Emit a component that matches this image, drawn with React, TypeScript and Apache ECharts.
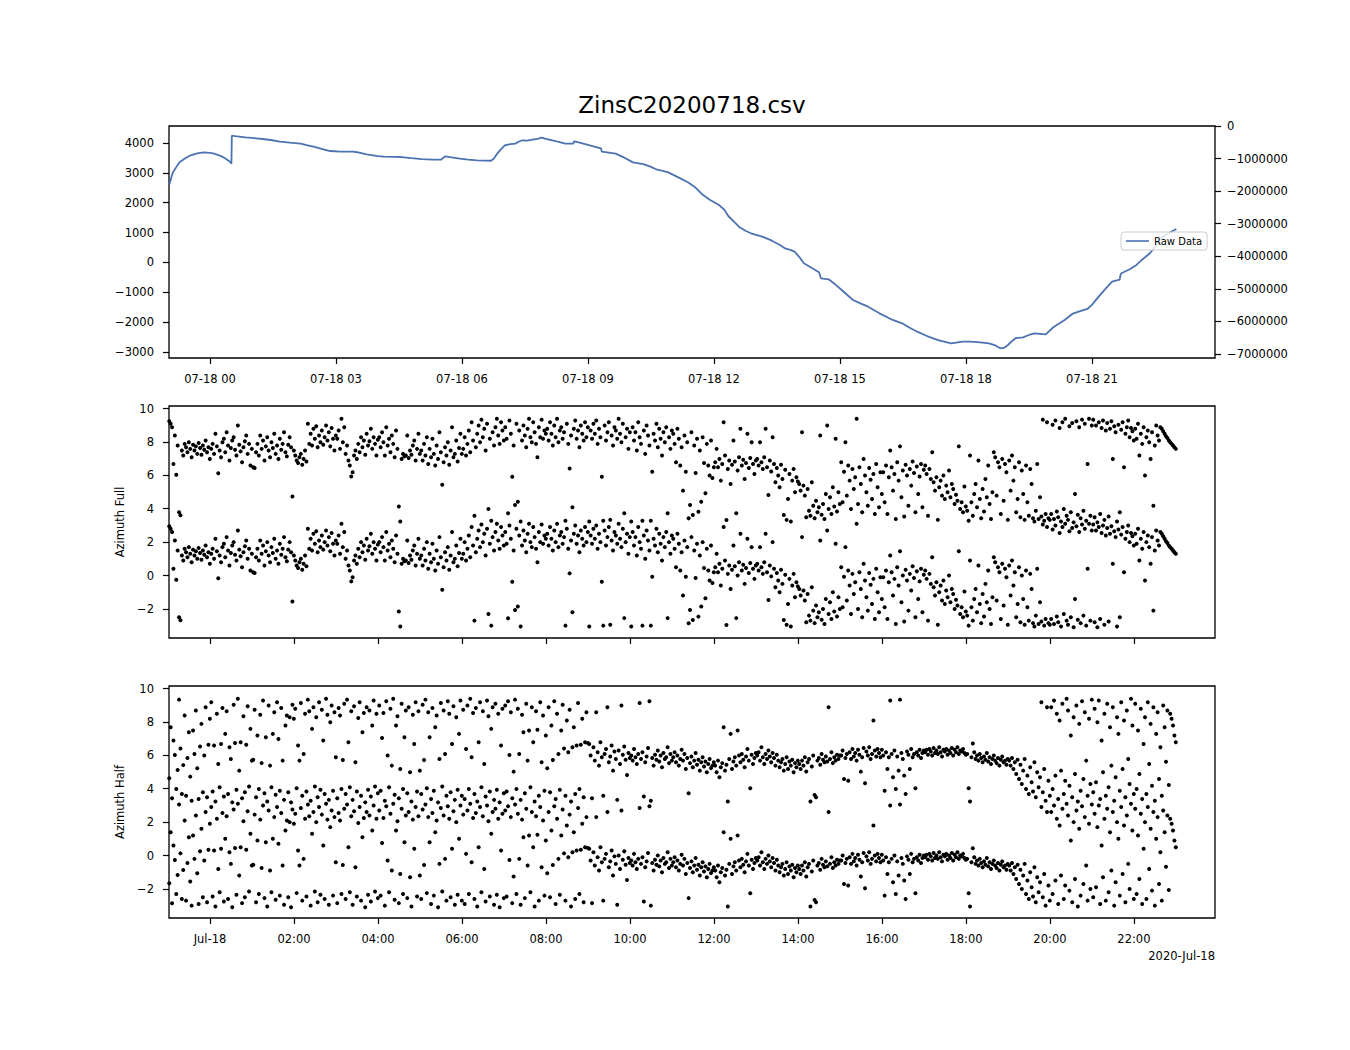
import React, { useEffect, useRef } from "react";
import * as echarts from "echarts";

const TITLE = "ZinsC20200718.csv";
const DATE_OFFSET_LABEL = "2020-Jul-18";
const FONT = "DejaVu Sans";

// x axis in hours relative to 2020-07-18 00:00
const X_MIN = -0.976;
const X_MAX = 23.93;

// Raw data line (top panel)
const rawHours = [
  -0.97, -0.89, -0.8, -0.73, -0.6, -0.48, -0.3, -0.15, 0.0, 0.1, 0.25, 0.35, 0.45, 0.49, 0.51, 0.52, 0.6, 0.84, 1.0, 1.25,
  1.45, 1.66, 1.9, 2.16, 2.3, 2.49, 2.7, 2.86, 3.1, 3.4, 3.5, 3.73, 4.0, 4.14, 4.4, 4.55, 4.8, 5.04, 5.3, 5.5,
  5.55, 5.6, 5.75, 5.95, 6.15, 6.36, 6.55, 6.69, 6.76, 6.82, 6.92, 7.02, 7.15, 7.27, 7.35, 7.43, 7.55, 7.68, 7.8, 7.89,
  8.0, 8.18, 8.3, 8.46, 8.65, 8.67, 8.8, 9.0, 9.15, 9.31, 9.33, 9.5, 9.66, 9.85, 10.07, 10.32, 10.5, 10.65, 10.9, 11.14,
  11.39, 11.55, 11.71, 11.9, 12.12, 12.25, 12.34, 12.5, 12.61, 12.75, 12.88, 13.15, 13.38, 13.55, 13.69, 13.8, 13.92, 14.05, 14.14, 14.3,
  14.41, 14.5, 14.55, 14.73, 14.9, 15.04, 15.31, 15.5, 15.67, 15.94, 16.21, 16.48, 16.65, 16.84, 17.11, 17.25, 17.38, 17.65, 17.92, 18.1,
  18.28, 18.55, 18.7, 18.82, 18.92, 19.0, 19.1, 19.18, 19.36, 19.5, 19.63, 19.9, 20.08, 20.35, 20.53, 20.7, 20.89, 21.0, 21.16, 21.3,
  21.48, 21.66, 21.68, 21.7, 21.9, 22.06, 22.2, 22.38, 22.5, 22.65, 22.8, 23.01,
];
const rawValues = [
  2600, 2992, 3200, 3350, 3480, 3574, 3650, 3686, 3670, 3642, 3570, 3496, 3400, 3350, 3306, 4246, 4230, 4190, 4170, 4134,
  4100, 4045, 4010, 3978, 3930, 3866, 3790, 3731, 3712, 3709, 3690, 3619, 3560, 3541, 3535, 3530, 3490, 3462, 3445, 3440,
  3500, 3552, 3520, 3474, 3440, 3418, 3410, 3406, 3480, 3608, 3780, 3922, 3960, 3978, 4040, 4090, 4080, 4112, 4140, 4179,
  4140, 4078, 4040, 3978, 3978, 4056, 4010, 3933, 3880, 3821, 3709, 3680, 3642, 3520, 3350, 3294, 3200, 3104, 3026, 2858,
  2679, 2520, 2292, 2100, 1924, 1760, 1555, 1330, 1177, 1060, 976, 862, 728, 600, 474, 430, 360, 150, -29, -160,
  -253, -330, -531, -565, -750, -923, -1258, -1380, -1482, -1705, -1896, -2040, -2180, -2320, -2488, -2560, -2622, -2708, -2654, -2650,
  -2666, -2708, -2780, -2876, -2850, -2765, -2630, -2540, -2510, -2430, -2373, -2410, -2172, -1928, -1726, -1640, -1559, -1420, -1146, -920,
  -644, -575, -420, -364, -230, -85, 100, 306, 520, 808, 960, 1120,
];

// Axis ticks
const leftTicks = [-3000, -2000, -1000, 0, 1000, 2000, 3000, 4000];
const rightTicks = [0, -1000000, -2000000, -3000000, -4000000, -5000000, -6000000, -7000000];
const topTickHours = [0, 3, 6, 9, 12, 15, 18, 21];
const bottomTickHours = [0, 2, 4, 6, 8, 10, 12, 14, 16, 18, 20, 22];
const azTicks = [-2, 0, 2, 4, 6, 8, 10];

// Azimuth samples: one value per 2 minutes starting at -0.97 h; each is drawn at v and v + 2*pi
const SAMPLE_START = -0.97;
const SAMPLE_STEP = 1 / 30;

const azFullBase = [
  // -1h
  2.95, 2.8, 2.6, 0.4, 2.1, -0.25, 1.5, -2.5, -2.68, 1.2, 0.9, 1.6, 1.4, 1.1, 1.7, 1.3, 0.8, 1.55, 1.2, 1.45, 1.0, 1.65, 1.35, 0.95, 1.5, 1.25, 1.8, 1.1, 1.4, 0.7,
  // 0h
  1.3, 1.6, 1.0, 2.2, 1.45, -0.16, 1.2, 0.8, 1.7, 1.9, 1.1, 2.3, 1.5, 0.6, 1.35, 1.8, 2.0, 1.25, 0.9, 2.7, 1.55, 1.15, 0.5, 1.4, 1.75, 2.1, 1.0, 1.6, 0.3, 1.3,
  // 1h
  0.2, 0.15, 1.1, 1.6, 0.9, 2.1, 1.3, 1.8, 0.6, 1.45, 2.0, 1.2, 0.8, 1.7, 1.35, 2.2, 1.0, 1.5, 0.7, 1.9, 1.25, 1.6, 2.3, 1.1, 0.85, 1.55, 2.0, 1.4, -1.55, 1.2,
  // 2h
  0.9, 0.6, 0.45, 0.8, 1.0, 0.35, 0.7, 1.2, 0.55, 2.8, 1.6, 2.2, 1.5, 2.5, 1.9, 2.65, 1.4, 2.1, 1.7, 2.4, 1.55, 2.0, 2.7, 1.8, 2.3, 1.45, 2.55, 1.9, 1.2, 2.1,
  // 3h
  1.9, 2.4, 1.3, 3.1, 1.7, 2.6, 1.0, 1.5, 0.6, 0.3, -0.35, -0.1, 0.9, 1.2, 0.7, 1.6, 1.1, 2.0, 1.4, 1.8, 0.95, 2.2, 1.5, 1.75, 2.5, 1.3, 2.0, 1.6, 0.9, 1.85,
  // 4h
  2.0, 1.4, 2.3, 1.7, 0.9, 2.6, 1.5, 1.9, 1.1, 2.1, 1.6, 0.8, 2.4, 1.3, -2.15, -3.05, 0.7, 1.0, 0.85, 0.9, 2.1, 0.75, 1.2, 0.95, 1.5, 1.8, 0.6, 1.3, 2.2, 1.0,
  // 5h
  1.2, 0.6, 1.6, 0.9, 2.0, 0.4, 1.3, 0.8, 1.9, 1.0, 0.3, 1.5, 0.7, 2.3, 1.1, -0.85, 0.5, 1.4, 0.9, 1.7, 0.35, 1.2, 2.6, 0.8, 1.0, 1.8, 0.55, 1.35, 2.2, 1.0,
  // 6h
  1.3, 2.0, 0.9, 1.6, 2.4, 1.1, 2.9, 1.8, -2.7, 1.4, 2.2, 2.7, 1.7, 3.05, 2.0, 2.5, 1.2, 2.8, -2.3, 1.9, -3.0, 2.3, 1.5, 2.6, 3.1, 2.1, 1.6, 2.9, 2.4, 1.8,
  // 7h
  2.6, 1.9, -2.56, 3.0, 2.2, -0.37, 1.5, -2.06, 2.8, -1.86, 2.4, -3.05, 1.8, 2.7, 2.1, 1.4, 2.5, 3.1, 2.0, 1.7, 2.9, 2.3, 1.6, 0.8, 2.6, 2.0, 3.05, 1.9, 2.4, 2.2,
  // 8h
  2.5, 1.8, 2.9, 2.2, 1.5, 2.7, 2.0, 3.1, 1.7, 2.4, 2.6, 1.9, 2.3, -3.0, 2.8, 1.6, 0.13, 2.1, -2.2, 2.5, 3.0, 1.9, 2.4, 1.4, 2.7, 2.2, 1.8, 2.9, 2.0, 2.6,
  // 9h
  -3.05, 2.4, 1.9, 2.8, 2.2, 3.0, 1.6, 2.5, 2.0, -0.37, -3.0, 2.7, 1.8, 2.3, 2.9, -2.95, 2.1, 1.5, 2.6, 2.4, 1.9, 3.1, 2.2, 1.7, 2.8, -2.55, 2.0, 2.5, 1.3, 2.3,
  // 10h
  -3.05, 2.6, 1.8, 2.3, 1.2, 2.9, 2.0, 1.6, -3.0, 2.4, 1.0, 2.7, 2.1, 1.5, -3.0, -0.07, 2.2, 1.8, 2.8, 1.4, 2.5, 1.9, 0.9, 2.3, 1.7, 2.6, -2.55, 2.0, 1.3, 2.4,
  // 11h
  2.2, 1.6, 0.5, 2.5, 1.9, 0.3, 1.4, -1.2, 2.1, -0.07, 1.7, -2.86, -2.06, 2.3, -2.66, 1.5, -0.15, 1.9, -2.46, 1.2, -1.86, 2.0, 0.45, -1.36, 1.6, 0.3, -0.3, 1.8, -0.45, 0.2,
  // 12h
  0.5, 1.3, 0.2, 0.7, -0.6, 0.4, 2.9, 0.9, -2.96, 0.1, 0.6, -0.8, 0.35, 1.8, 0.55, -2.55, 0.0, 0.8, 2.5, 0.3, 0.65, -0.5, 0.45, 2.2, 0.15, 0.75, 1.7, 0.4, -0.2, 0.6,
  // 13h
  0.7, 0.3, 1.7, 0.5, 0.1, 0.8, 2.5, 0.2, -1.46, 0.6, -0.05, 2.0, 0.4, -0.7, 0.15, -0.3, -1.0, 0.35, -0.5, -2.66, 0.05, -2.95, -1.7, -0.2, -3.05, -0.6, 0.1, -1.3, -0.4, -0.65,
  // 14h
  -0.8, -1.2, 2.3, -0.9, -1.5, -2.8, -1.1, -2.4, -2.7, -0.7, -2.1, -2.85, -1.8, -2.5, -2.2, 2.1, -2.65, -2.0, -2.9, -1.4, 2.7, -2.3, -1.6, -2.6, -1.0, -2.15, 1.9, -2.45, -1.3, -2.0,
  // 15h
  0.5, -1.9, -0.07, 1.7, -1.5, 0.3, -0.6, -2.3, 0.1, -1.1, -0.4, 3.1, -2.0, 0.2, -0.8, -2.5, 0.7, -0.3, -1.3, -2.1, 0.15, -0.55, -1.7, -0.2, -2.6, 0.4, -1.0, -2.2, -0.1, -1.4,
  // 16h
  -0.1, -1.9, 0.3, -2.6, -0.4, 1.2, 0.2, -1.2, -0.2, -2.9, 0.5, -0.6, 1.45, -1.6, 0.0, -2.75, 0.35, -0.3, -2.1, 0.1, -0.9, 0.55, -0.15, -2.5, 0.25, -1.4, -0.35, 0.4, -2.2, 0.05,
  // 17h
  0.3, -0.2, -2.7, 0.1, -0.5, 1.1, -0.7, -1.2, -0.4, -2.95, -1.0, -0.6, -1.5, -0.3, -1.7, -0.9, -1.3, 0.0, -1.6, -0.8, -1.1, -2.0, -1.45, -1.8, 1.45, -2.3, -1.9, -2.5, -0.95, -2.15,
  // 18h
  -2.4, -3.0, 0.9, -1.9, -2.7, -1.4, -0.8, -2.2, 0.6, -1.7, -2.85, -1.1, -2.45, -0.5, -1.6, 0.3, -2.0, -2.9, -1.3, 1.1, 0.8, -1.5, 0.5, 0.2, -2.6, 0.7, -1.8, 0.4, -0.1, -2.95,
  // 19h
  0.6, -1.2, 0.9, -0.6, 0.2, -2.5, -1.7, 0.5, -2.8, 0.0, -1.4, -2.95, 0.3, -1.9, -2.7, 0.1, -0.8, -2.85, -3.05, -2.4, 0.4, -2.9, -1.6, -2.75, 3.05, -3.0, -2.6, 2.9, -2.85, -2.95,
  // 20h
  -2.6, 2.75, -2.9, 3.0, -2.45, -2.8, 2.55, -3.05, 2.9, -2.3, 3.1, -2.7, -2.95, 2.65, -2.5, 2.85, -3.1, -1.4, 2.95, -2.65, 2.6, -2.85, 3.05, -2.4, 2.8, -3.0, 0.4, 3.1, -2.7, 2.7,
  // 21h
  3.05, -2.8, 2.7, -3.1, 2.9, -2.6, 2.55, 3.0, -2.95, 2.4, 2.85, -2.75, 2.5, 2.95, 0.7, 2.65, 2.3, -3.05, 2.75, -2.5, 2.45, 2.9, 0.2, 2.2, 2.6, 3.0, 2.0, 2.55, 2.35, 1.8,
  // 22h
  2.5, 1.9, 2.8, 0.9, 2.2, 1.6, 2.6, -0.3, 2.0, 2.4, 1.7, 0.7, 2.3, -2.1, 1.5, 2.7, 2.1, 1.8, 2.6, 2.5, 2.35, 2.2, 2.05, 1.95, 1.8, 1.7, 1.6, 1.5, 1.4, 1.3,
];

const azHalfBase = [
  // -1h
  -1.66, 1.4, -2.86, 0.6, -0.27, -2.3, -1.16, 3.05, 0.13, -2.6, -0.87, 2.1, -2.7, -0.45, 1.1, -1.56, -3.0, 1.2, -0.2, 2.4, -1.06, -2.9, 0.25, 1.6, -2.5, -0.3, 2.6, -2.8, 0.35, 1.9,
  // 0h
  2.9, -2.45, 0.3, -3.05, 2.2, -0.8, -2.2, 0.4, 2.55, -2.75, 1.0, 2.35, -2.6, 0.2, -0.5, -3.1, 2.75, 0.45, -2.35, 3.1, -1.2, 0.5, -2.85, 2.05, -2.5, 0.35, 2.65, -2.15, 1.3, -0.6,
  // 1h
  -0.55, 2.45, -2.8, 0.9, -2.3, 2.15, -0.75, 3.0, -2.55, 0.8, -3.05, 2.7, -0.9, -2.2, 1.0, 2.3, -2.65, 2.9, 0.7, -2.4, 2.55, -0.6, -2.95, 1.5, 2.1, -2.5, 2.0, -3.1, 2.75, 1.9,
  // 2h
  2.5, -2.25, 0.3, -0.6, 2.85, -2.7, -0.2, 2.2, -2.45, 3.05, 2.35, -3.0, 1.3, 2.6, -2.15, 2.0, -2.8, 2.9, -2.35, 2.45, 0.6, -2.6, 3.1, 2.15, -2.95, 1.7, 2.7, -2.4, 2.3, -0.4,
  // 3h
  -2.85, 2.55, 2.1, -2.3, -0.57, 2.8, -2.6, 3.05, 0.5, -2.2, 2.35, -2.95, 2.65, -0.7, -2.45, 1.95, 2.9, -2.7, 1.1, 2.25, -3.1, 2.6, -2.35, 2.4, -2.75, 1.5, 3.0, -2.15, 2.2, -2.55,
  // 4h
  2.7, -2.4, 0.75, 2.25, -3.0, 2.95, -0.3, -2.2, 2.5, -0.9, 3.1, -2.65, 1.5, 2.05, -2.85, -1.1, 2.8, -2.3, 0.8, 2.4, -2.55, 2.6, -1.3, -3.05, 2.15, 0.4, 2.9, -2.45, 2.35, -1.2,
  // 5h
  -2.6, 2.75, -0.57, 3.05, -2.25, 2.3, 0.8, -2.9, 2.55, -2.4, 1.4, 2.1, -3.1, -0.5, 2.85, -2.15, 2.4, -0.2, -2.7, 2.95, 2.2, -2.5, 0.4, 2.65, -2.95, 2.0, -2.35, 1.0, 3.0, -2.7,
  // 6h
  2.45, -2.9, 0.1, 2.7, -2.3, 3.1, -0.4, 2.25, -2.6, 2.55, -3.05, 0.5, 2.9, -2.2, 2.35, -0.8, -2.75, 3.0, 2.05, -2.45, 1.3, 2.6, -2.95, 2.8, -2.35, 2.2, -3.1, 0.3, 2.5, -2.55,
  // 7h
  2.7, -2.45, 2.95, -0.27, 2.3, -2.85, -1.26, 3.05, -2.3, 2.5, -0.2, -2.95, 2.15, 1.1, -2.55, 2.8, -0.6, 1.2, -2.2, 2.6, 0.5, -3.05, 2.35, 1.25, -2.7, 2.9, -0.7, 2.1, -2.4, 0.9,
  // 8h
  -1.06, 2.6, -2.5, 1.5, -0.57, 2.95, -2.9, 2.2, -0.2, -2.35, 1.2, 2.75, 0.13, -2.7, 1.8, -0.1, 2.45, -3.05, 0.2, 1.4, -2.6, 0.3, 2.85, -2.3, 0.35, 1.9, -2.8, 0.5, 2.3, 0.45,
  // 9h
  0.4, -0.3, -2.85, 0.2, -0.6, 2.3, -0.1, -0.9, 0.5, -0.4, -2.7, -0.2, 0.1, 2.6, -0.7, -0.35, 0.3, -1.2, -0.05, -0.5, -2.95, 0.0, -0.8, 2.7, -0.25, 0.25, -0.55, -1.46, -0.15, -0.45,
  // 10h
  -0.3, -0.6, 0.1, -0.4, -0.8, -0.2, 2.85, -0.5, -0.1, -2.75, -0.7, -0.35, 0.15, 2.95, -3.0, -0.45, -0.9, -0.25, -0.55, 0.0, -0.65, -0.3, -1.0, -0.15, -0.5, -0.4, 0.2, -0.75, -0.2, -0.6,
  // 11h
  -0.4, -0.1, -0.7, -0.3, -0.9, -0.5, 0.05, -0.6, -0.2, -1.1, -0.45, -2.55, -0.75, -0.35, -1.0, -0.6, -0.15, -0.85, -0.55, -1.2, -0.7, -0.4, -0.95, -0.65, -1.3, -0.8, -0.5, -1.05, -0.9, -0.7,
  // 12h
  -0.9, -1.3, -0.6, -1.6, -1.0, -0.75, 1.4, -1.2, -0.85, -3.05, -0.5, 1.0, -1.1, -0.65, -0.4, -0.9, 1.2, -0.3, -0.7, -0.2, -0.55, -1.0, -0.35, 0.1, -0.6, -2.26, -0.25, -0.8, -0.45, -0.15,
  // 13h
  -0.3, -0.1, -0.6, 0.2, -0.4, -0.8, -0.2, -0.5, 0.0, -0.35, -0.7, -0.15, -0.45, -0.9, -0.25, -0.6, -1.0, -0.7, -0.5, -1.2, -0.8, -0.4, -1.1, -0.65, -0.9, -0.55, -1.3, -0.75, -1.0, -0.6,
  // 14h
  -0.8, -1.1, -0.6, -0.9, -0.4, -1.25, -0.7, -0.5, -3.05, -0.95, -0.3, -2.66, -2.8, -0.6, -0.45, -0.85, -0.2, -0.55, -0.7, -0.35, -0.65, 2.6, -0.5, -0.1, -0.75, -0.4, -0.6, -0.25, -0.5, -0.3,
  // 15h
  -0.3, 0.0, -1.7, -0.45, -0.2, -1.8, -0.1, -0.5, 0.1, -0.35, -0.15, -0.6, 0.05, -0.25, -1.26, -0.4, 0.15, -1.96, -0.05, -0.3, 0.2, -0.5, -0.2, 1.8, 0.0, -0.35, 0.1, -0.15, -0.4, 0.05,
  // 16h
  -0.3, -2.4, -0.1, -1.1, -0.4, 3.0, -0.2, -1.6, 0.0, -2.3, -0.35, -1.2, 3.05, -0.15, -0.5, -1.5, -2.6, -0.05, -0.25, -1.1, 0.1, -0.4, -0.2, -2.26, -0.1, -0.3, 0.05, -0.45, -0.15, 0.0,
  // 17h
  -0.1, 0.05, -0.25, 0.1, -0.05, -0.3, 0.15, -0.15, 0.0, -0.2, 0.2, -0.1, -0.35, 0.05, -0.05, 0.1, -0.25, 0.0, -0.15, 0.15, -0.3, 0.05, -0.1, 0.2, -0.2, 0.0, -0.05, 0.1, -0.15, -0.25,
  // 18h
  -0.2, -2.26, -3.05, -0.4, 0.43, -0.1, -0.5, -0.3, -0.6, -0.2, -0.45, -0.7, -0.35, -0.55, -0.15, -0.65, -0.4, -0.8, -0.5, -0.3, -0.6, -0.75, -0.45, -0.9, -0.55, -0.35, -0.7, -0.6, -0.85, -0.5,
  // 19h
  -0.6, -0.9, -0.45, -1.1, -0.7, -1.4, -0.55, -1.7, -0.85, -2.0, -1.2, -0.5, -2.3, -1.5, -2.6, -1.0, -1.9, -2.45, -0.7, -2.8, -1.3, -2.2, -1.6, 2.9, -2.5, -1.1, -3.0, 2.6, -1.8, -2.7,
  // 20h
  2.6, -2.3, 3.0, -1.5, 2.2, -2.9, 1.8, -1.2, 2.8, -2.6, -1.8, 3.1, 2.4, -2.1, 0.9, -2.8, 2.0, -1.4, 2.7, -3.05, 1.6, -2.4, 2.95, -1.7, 2.3, -0.6, -2.7, 1.9, -2.0, 3.05,
  // 21h
  -2.5, 2.5, -1.9, 1.7, 3.0, -2.9, 0.6, -1.3, 2.2, -2.7, 2.8, -2.2, 1.4, -0.9, 2.6, -3.0, -1.6, 2.0, 1.0, -2.4, 2.9, -1.1, 1.8, -2.8, 2.4, -0.5, -2.0, 3.1, 1.5, -2.6,
  // 22h
  2.8, -2.3, 1.2, -1.4, 2.5, -2.9, 0.4, 2.0, -2.6, 2.9, -0.8, 1.6, -2.1, 2.6, -3.0, 1.0, 2.3, -1.7, 0.2, -2.7, 2.7, 1.4, -0.67, 2.4, -2.06, 2.2, 1.9, 1.5, 0.9, 0.5,
];

const TWO_PI = 2 * Math.PI;

const minus = (s: string) => s.replace("-", "\u2212");
const pad2 = (v: number) => (v < 10 ? "0" + v : String(v));

function wrapPairs(base: number[]) {
  const out: number[][] = [];
  base.forEach((v, i) => {
    const t = SAMPLE_START + i * SAMPLE_STEP;
    out.push([t, v]);
    out.push([t, v + TWO_PI]);
  });
  return out;
}

const tickStyle = { show: true, length: 6, inside: false, lineStyle: { color: "#000", width: 1.2 } };
const labelBase = { color: "#000", fontSize: 11.5, fontFamily: FONT };
const noAxisLine = { show: false, onZero: false };

export default function App() {
  const ref = useRef<HTMLDivElement>(null);

  useEffect(() => {
    document.body.style.margin = "0";
    if (!ref.current) return;
    const chart = echarts.init(ref.current, null, { renderer: "svg" });

    const grids = [
      { left: 169, top: 126, width: 1046, height: 232 },
      { left: 169, top: 406, width: 1046, height: 232 },
      { left: 169, top: 686, width: 1046, height: 232 },
    ].map((g) => ({ ...g, show: true, borderColor: "#000", borderWidth: 1.3, backgroundColor: "transparent", containLabel: false }));

    const xCommon = {
      type: "value" as const,
      min: X_MIN,
      max: X_MAX,
      position: "bottom" as const,
      axisLine: noAxisLine,
      splitLine: { show: false },
    };

    const option: any = {
      animation: false,
      backgroundColor: "#fff",
      textStyle: { fontFamily: FONT },
      grid: grids,
      legend: {
        show: true,
        data: [{ name: "Raw Data", icon: "rect" }],
        left: 1121,
        top: 232,
        padding: [4, 5, 4, 5],
        itemWidth: 23,
        itemHeight: 1.6,
        itemGap: 0,
        textStyle: { color: "#000", fontSize: 10, fontFamily: FONT },
        borderColor: "#cccccc",
        borderWidth: 1,
        borderRadius: 3,
        backgroundColor: "rgba(255,255,255,0.8)",
      },
      xAxis: [
        {
          ...xCommon,
          gridIndex: 0,
          axisTick: { ...tickStyle, customValues: topTickHours },
          axisLabel: { ...labelBase, margin: 15, customValues: topTickHours, formatter: (v: number) => "07-18 " + pad2(v) },
        },
        {
          ...xCommon,
          gridIndex: 1,
          axisTick: { ...tickStyle, customValues: bottomTickHours },
          axisLabel: { show: false },
        },
        {
          ...xCommon,
          gridIndex: 2,
          axisTick: { ...tickStyle, customValues: bottomTickHours },
          axisLabel: {
            ...labelBase,
            margin: 15,
            customValues: bottomTickHours,
            formatter: (v: number) => (v === 0 ? "Jul-18" : pad2(v) + ":00"),
          },
        },
      ],
      yAxis: [
        {
          type: "value",
          gridIndex: 0,
          position: "left",
          min: -3201,
          max: 4569,
          axisLine: noAxisLine,
          splitLine: { show: false },
          axisTick: { ...tickStyle, customValues: leftTicks },
          axisLabel: { ...labelBase, margin: 15, customValues: leftTicks, formatter: (v: number) => minus(String(v)) },
        },
        {
          type: "value",
          gridIndex: 0,
          position: "right",
          min: -7122807,
          max: 0,
          axisLine: noAxisLine,
          splitLine: { show: false },
          axisTick: { ...tickStyle, customValues: rightTicks },
          axisLabel: { ...labelBase, margin: 12, customValues: rightTicks, formatter: (v: number) => minus(String(v)) },
        },
        {
          type: "value",
          gridIndex: 1,
          position: "left",
          min: -3.74,
          max: 10.15,
          name: "Azimuth Full",
          nameLocation: "middle",
          nameRotate: 90,
          nameGap: 41,
          nameTextStyle: { ...labelBase },
          axisLine: noAxisLine,
          splitLine: { show: false },
          axisTick: { ...tickStyle, customValues: azTicks },
          axisLabel: { ...labelBase, margin: 15, customValues: azTicks, formatter: (v: number) => minus(String(v)) },
        },
        {
          type: "value",
          gridIndex: 2,
          position: "left",
          min: -3.74,
          max: 10.15,
          name: "Azimuth Half",
          nameLocation: "middle",
          nameRotate: 90,
          nameGap: 41,
          nameTextStyle: { ...labelBase },
          axisLine: noAxisLine,
          splitLine: { show: false },
          axisTick: { ...tickStyle, customValues: azTicks },
          axisLabel: { ...labelBase, margin: 15, customValues: azTicks, formatter: (v: number) => minus(String(v)) },
        },
      ],
      series: [
        {
          name: "Raw Data",
          type: "line",
          xAxisIndex: 0,
          yAxisIndex: 0,
          data: rawHours.map((h, i) => [h, rawValues[i]]),
          showSymbol: false,
          symbol: "none",
          lineStyle: { color: "#4c72b0", width: 1.8 },
          itemStyle: { color: "#4c72b0" },
          silent: true,
        },
        {
          name: "Azimuth Full",
          type: "scatter",
          xAxisIndex: 1,
          yAxisIndex: 2,
          data: wrapPairs(azFullBase),
          symbolSize: 4,
          itemStyle: { color: "#000", opacity: 1 },
          silent: true,
        },
        {
          name: "Azimuth Half",
          type: "scatter",
          xAxisIndex: 2,
          yAxisIndex: 3,
          data: wrapPairs(azHalfBase),
          symbolSize: 4,
          itemStyle: { color: "#000", opacity: 1 },
          silent: true,
        },
      ],
      graphic: [
        {
          type: "text",
          x: 692,
          y: 105,
          style: { text: TITLE, fill: "#000", fontSize: 23, fontFamily: FONT, textAlign: "center", textVerticalAlign: "middle" },
        },
        {
          type: "text",
          x: 1215,
          y: 956,
          style: { text: DATE_OFFSET_LABEL, fill: "#000", fontSize: 11.5, fontFamily: FONT, textAlign: "right", textVerticalAlign: "middle" },
        },
      ],
    };

    chart.setOption(option);
    return () => chart.dispose();
  }, []);

  return <div ref={ref} style={{ width: 1350, height: 1050 }} />;
}
